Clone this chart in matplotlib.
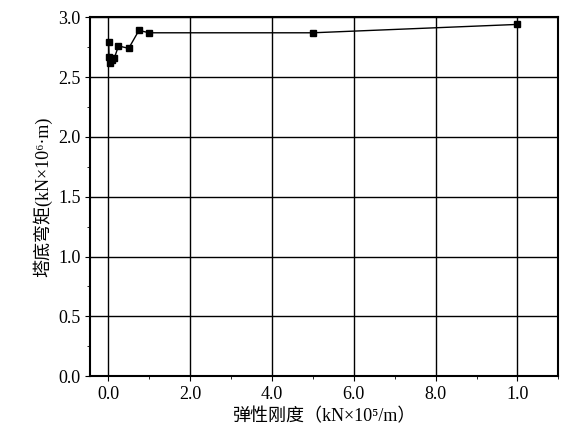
import matplotlib
matplotlib.use('Agg')
import matplotlib.pyplot as plt
from matplotlib.ticker import MultipleLocator

plt.rcParams['font.family'] = ['Liberation Serif', 'Noto Sans CJK SC', 'DejaVu Sans']
stiff = [0.01, 0.02, 0.05, 0.1, 0.15, 0.25, 0.5, 0.75, 1.0, 5.0, 10.0]
moment = [2.79, 2.67, 2.62, 2.64, 2.66, 2.76, 2.74, 2.89, 2.87, 2.87, 2.94]
xticks = [0, 2, 4, 6, 8, 10]
xlabels = ['0.0', '2.0', '4.0', '6.0', '8.0', '1.0']

fig = plt.figure(figsize=(5.64, 4.42), dpi=100)
ax = fig.add_axes([0.16, 0.149, 0.83, 0.812])
ax.plot(stiff, moment, color='black', lw=1, marker='s', ms=5)
ax.set_xlim(-0.44, 11.0)
ax.set_ylim(0, 3.0)
ax.set_xticks(xticks)
ax.set_xticklabels(xlabels)
ax.set_yticks([0, 0.5, 1.0, 1.5, 2.0, 2.5, 3.0])
ax.set_yticklabels(['0.0', '0.5', '1.0', '1.5', '2.0', '2.5', '3.0'])
ax.xaxis.set_minor_locator(MultipleLocator(1))
ax.yaxis.set_minor_locator(MultipleLocator(0.25))
ax.grid(True, which='major', color='black', lw=1)
ax.tick_params(labelsize=13, direction='out')
for s in ax.spines.values():
    s.set_linewidth(1.5)
ax.set_xlabel('弹性刚度（kN×10⁵/m）', fontsize=13)
ax.set_ylabel('塔底弯矩(kN×10⁶·m)', fontsize=13)
fig.savefig('out.png', dpi=100)
